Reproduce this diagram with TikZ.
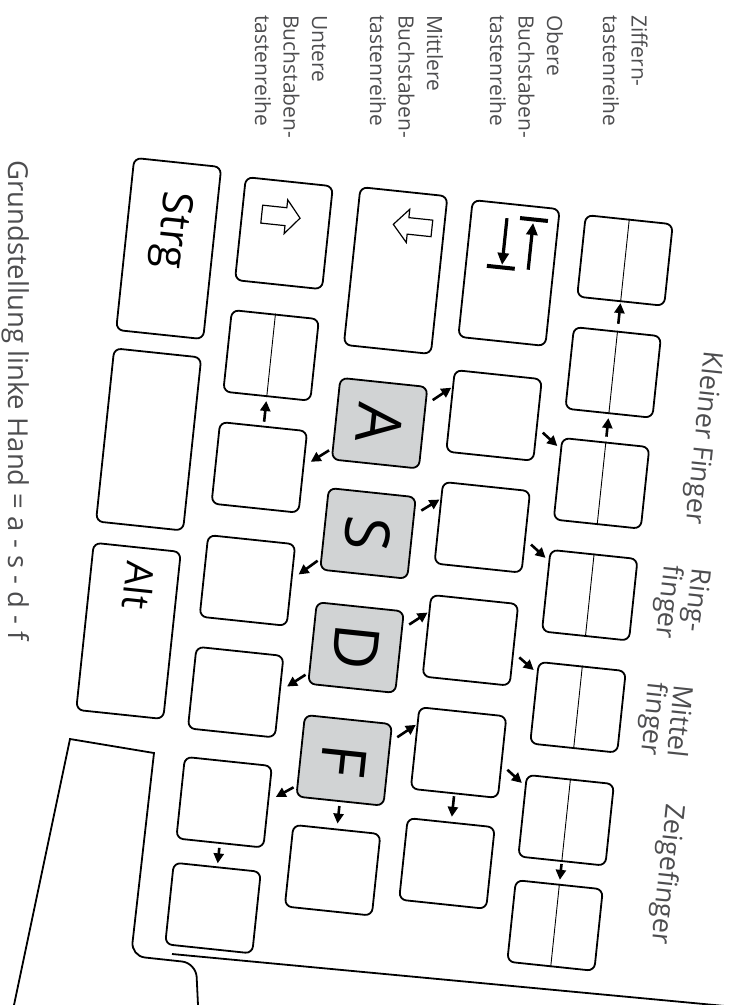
\documentclass[tikz,border=0pt]{standalone}
\usepackage{fontspec}
\setmainfont{Open Sans}
\usetikzlibrary{arrows.meta}

\definecolor{keygray}{HTML}{D1D3D4}
\definecolor{labelgray}{HTML}{4D4D4F}

\tikzset{
  keybox/.style={draw, line width=1.8pt, rounded corners=7pt, inner sep=0pt,
    minimum width=82pt, minimum height=87.5pt},
  homekey/.style={keybox, fill=keygray, font=\fontsize{62}{62}\selectfont},
  divider/.style={line width=0.9pt},
  fingerarrow/.style={line width=2.6pt, -{Triangle[length=10pt,width=10pt]}},
  keytext/.style={inner sep=0pt, font=\fontsize{42}{42}\selectfont},
  rowlabel/.style={rotate=-90, anchor=base west, inner sep=0pt, align=left,
    text=labelgray, font=\fontsize{21}{28.5}\selectfont},
  fingerlabel/.style={anchor=base west, inner sep=0pt, align=left,
    text=labelgray, font=\fontsize{27}{26}\selectfont},
}

\begin{document}
\begin{tikzpicture}[x=1pt,y=1pt]
\useasboundingbox (0,0) rectangle (741,-1005);

% Beschriftung der Tastenreihen (Anker: Grundlinie der letzten Zeile)
\node[rowlabel] (lZiffer) at (603,-15) {Ziffern-\\tastenreihe};
\node[rowlabel] (lOben) at (490,-15) {Obere\\Buchstaben-\\tastenreihe};
\node[rowlabel] (lMitte) at (370,-15) {Mittlere\\Buchstaben-\\tastenreihe};
\node[rowlabel] (lUnten) at (255,-15) {Untere\\Buchstaben-\\tastenreihe};
\node[rowlabel, font=\fontsize{27.5}{32}\selectfont] (caption) at (9,-160)
  {Grundstellung linke Hand = a - s - d - f};

% Leertaste und Rand
\draw[line width=1.8pt] (14,-1005) -- (70,-739) -- (154,-753)
  [rounded corners=14pt] -- (131,-956) -- (196,-963) [sharp corners] -- (198,-1005);
\draw[line width=1.8pt] (172,-954) -- (741,-1007.5);

\begin{scope}[rotate=-96, transform shape]
% Zahlenreihe
\node[keybox] (kZirk) at (193.7,648.75) {};
\node[keybox] (kEins) at (306.3,648.75) {};
\node[keybox] (kZwei) at (417.8,648.75) {};
\node[keybox] (kDrei) at (530.3,648.75) {};
\node[keybox] (kVier) at (643,648.75) {};
\node[keybox] (kFuenf) at (756.6,648.75) {};
\node[keybox] (kSechs) at (862.4,648.75) {};
% obere Reihe
\node[keybox, minimum width=137.5pt] (kTab) at (218.3,534.75) {};
\node[keybox] (kQ) at (361.5,534.75) {};
\node[keybox] (kW) at (474,534.75) {};
\node[keybox] (kE) at (587.6,534.75) {};
\node[keybox] (kR) at (700.5,534.75) {};
\node[keybox] (kT) at (812,534.75) {};
% mittlere Reihe
\node[keybox, minimum width=158.6pt] (kCaps) at (227.7,421.75) {};
\node[homekey] (kA) at (381.2,421.75) {A};
\node[homekey] (kS) at (492,421.75) {S};
\node[homekey] (kD) at (606.8,421.75) {D};
\node[homekey] (kF) at (720.2,421.75) {F};
\node[keybox] (kG) at (830.7,421.75) {};
% untere Reihe
\node[keybox, minimum width=103.5pt] (kShift) at (202.2,306.75) {};
\node[keybox] (kLess) at (325.1,306.75) {};
\node[keybox] (kY) at (437.7,306.75) {};
\node[keybox] (kX) at (551.4,306.75) {};
\node[keybox] (kC) at (663.7,306.75) {};
\node[keybox] (kV) at (774.4,306.75) {};
\node[keybox] (kB) at (880.8,306.75) {};
% Strg, Win, Alt
\node[keybox, minimum width=173pt] (kStrg) at (229.5,193.75) {};
\node[keybox, minimum width=174pt] (kWin) at (421.5,193.75) {};
\node[keybox, minimum width=168pt] (kAlt) at (614,193.75) {};
\node[keytext, anchor=base west] (tStrg) at (172,184) {Strg};
\node[keytext, anchor=base west, font=\fontsize{38}{38}\selectfont] (tAlt) at (544,185) {Alt};

\foreach \k in {kZirk,kEins,kZwei,kDrei,kVier,kFuenf,kSechs,kLess}
  \draw[divider] (\k.west) -- (\k.east);

% Symbole
\draw[line width=1.2pt] (176.6,282.7) -- (194.6,282.7) -- (194.6,307) -- (202.6,307)
  -- (185.6,321.2) -- (168.6,307) -- (176.6,307) -- cycle;
\draw[line width=1.2pt] (173.7,453.4) -- (190.3,453.4) -- (190.3,429.4) -- (198.7,429.4)
  -- (182,414.6) -- (165.3,429.4) -- (173.7,429.4) -- cycle;
\draw[line width=4pt] (162.5,540) -- (162.5,568);
\draw[line width=4pt] (213.5,512) -- (213.5,540);
\draw[line width=3.2pt, -{Triangle[length=12pt,width=11pt]}] (213,553.5) -- (166,553.5);
\draw[line width=3.2pt, -{Triangle[length=12pt,width=11pt]}] (164,527) -- (211,527);

% Fingerwege
\draw[fingerarrow, shorten <=7pt, shorten >=1pt] (kEins.west) -- (kZirk.east);
\draw[fingerarrow, shorten <=5pt, shorten >=4pt] (kZwei.west) -- (kEins.east);
\draw[fingerarrow, shorten <=4pt, shorten >=4pt] (kY.west) -- (kLess.east);
\draw[fingerarrow, shorten <=4pt, shorten >=5pt] (kF.east) -- (kG.west);
\draw[fingerarrow, shorten <=4pt, shorten >=3pt] (kV.east) -- (kB.west);
\draw[fingerarrow, shorten <=2pt, shorten >=5pt] (kR.east) -- (kT.west);
\draw[fingerarrow, shorten <=2pt, shorten >=4pt] (kFuenf.east) -- (kSechs.west);
\foreach \a/\b in {kA/kQ, kS/kW, kD/kE, kF/kR}
  \draw[fingerarrow, shorten <=7.5pt, shorten >=1pt] (\a.118) -- (\b.242);
\foreach \a/\b in {kQ/kZwei, kW/kDrei, kE/kVier, kR/kFuenf}
  \draw[fingerarrow, shorten <=7pt, shorten >=4pt] (\a.80.5) -- (\b.236);
\foreach \a/\b in {kA/kY, kS/kX, kD/kC, kF/kV}
  \draw[fingerarrow, shorten <=3.5pt, shorten >=7.5pt] (\a.304.4) -- (\b.98.2);

% Finger (Anker: Grundlinie der letzten Zeile)
\node[fingerlabel] (fKlein) at (275,737) {Kleiner Finger};
\node[fingerlabel] (fRing) at (492,719.5) {Ring-\\finger};
\node[fingerlabel] (fMittel) at (610,716.7) {Mittel\\finger};
\node[fingerlabel] (fZeige) at (729,747) {Zeigefinger};
\end{scope}
\end{tikzpicture}
\end{document}
